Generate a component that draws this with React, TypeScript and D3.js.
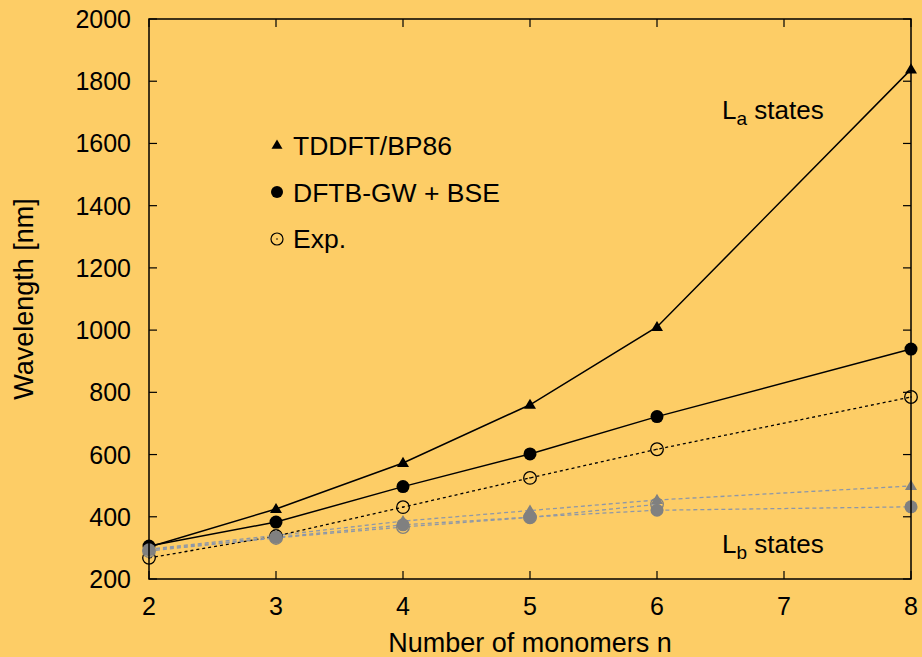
import React from "react";
import * as d3 from "d3";

// monomer counts
const nLa = [2, 3, 4, 5, 6, 8];
const nLbExp = [2, 3, 4, 5, 6];

// La states
const tddftLa = [303, 425, 573, 760, 1010, 1838];
const dftbLa = [306, 383, 497, 602, 722, 939];
const expLa = [268, 338, 431, 525, 617, 785];

// Lb states
const tddftLb = [296, 340, 386, 420, 454, 499];
const dftbLb = [294, 334, 374, 399, 421, 432];
const expLb = [290, 332, 367, 398, 440];

const xTicks = [2, 3, 4, 5, 6, 7, 8];
const yTicks = [200, 400, 600, 800, 1000, 1200, 1400, 1600, 1800, 2000];

const W = 922;
const H = 657;
const left = 149;
const right = 911;
const top = 19;
const bottom = 579;
const BG = "#fdcd66";
const GRAY = "#808080";
const GRAYLINE = "#8d97a8";
const FONT = "'Liberation Sans', Arial, sans-serif";

const x = d3.scaleLinear().domain([2, 8]).range([left, right]);
const y = d3.scaleLinear().domain([200, 2000]).range([bottom, top]);

const tri = (cx: number, cy: number, w: number) => {
  const h = w * 0.85;
  return `M${cx},${cy - h * 0.6}L${cx + w / 2},${cy + h * 0.4}L${cx - w / 2},${cy + h * 0.4}Z`;
};

const pts = (ns: number[], vs: number[]) => ns.map((n, i) => [n, vs[i]] as [number, number]);

const line = d3
  .line<[number, number]>()
  .x((d) => x(d[0]))
  .y((d) => y(d[1]));

const Triangles = ({ data, fill }: { data: [number, number][]; fill: string }) => (
  <g>
    {data.map((d, i) => (
      <path key={i} d={tri(x(d[0]), y(d[1]), 12)} fill={fill} />
    ))}
  </g>
);

const Dots = ({ data, fill }: { data: [number, number][]; fill: string }) => (
  <g>
    {data.map((d, i) => (
      <circle key={i} cx={x(d[0])} cy={y(d[1])} r={6.5} fill={fill} />
    ))}
  </g>
);

const Rings = ({ data, stroke }: { data: [number, number][]; stroke: string }) => (
  <g>
    {data.map((d, i) => (
      <g key={i}>
        <circle cx={x(d[0])} cy={y(d[1])} r={6.3} fill="none" stroke={stroke} strokeWidth={1.3} />
        <circle cx={x(d[0])} cy={y(d[1])} r={0.8} fill={stroke} />
      </g>
    ))}
  </g>
);

export default function App() {
  const tLa = pts(nLa, tddftLa);
  const dLa = pts(nLa, dftbLa);
  const eLa = pts(nLa, expLa);
  const tLb = pts(nLa, tddftLb);
  const dLb = pts(nLa, dftbLb);
  const eLb = pts(nLbExp, expLb);

  return (
    <svg
      width={W}
      height={H}
      style={{ position: "absolute", left: 0, top: 0, background: BG, fontFamily: FONT }}
    >
      <rect x={0} y={0} width={W} height={H} fill={BG} />

      {/* ticks */}
      <g stroke="#000" strokeWidth={1.2}>
        {yTicks.map((t) => (
          <g key={t}>
            <line x1={left} x2={left + 8} y1={y(t)} y2={y(t)} />
            <line x1={right} x2={right - 8} y1={y(t)} y2={y(t)} />
          </g>
        ))}
        {xTicks.map((t) => (
          <g key={t}>
            <line x1={x(t)} x2={x(t)} y1={bottom} y2={bottom - 8} />
            <line x1={x(t)} x2={x(t)} y1={top} y2={top + 8} />
          </g>
        ))}
      </g>
      <g fontSize={25} fill="#000">
        {yTicks.map((t) => (
          <text key={t} x={131} y={y(t)} dy="0.36em" textAnchor="end">
            {t}
          </text>
        ))}
        {xTicks.map((t) => (
          <text key={t} x={x(t)} y={615} textAnchor="middle">
            {t}
          </text>
        ))}
      </g>
      <text x={530} y={652} fontSize={27} textAnchor="middle">
        Number of monomers n
      </text>
      <text transform="translate(33,299) rotate(-90)" fontSize={27} textAnchor="middle">
        Wavelength [nm]
      </text>

      {/* La lines */}
      <path d={line(tLa) || ""} fill="none" stroke="#000" strokeWidth={1.5} />
      <path d={line(dLa) || ""} fill="none" stroke="#000" strokeWidth={1.5} />
      <path d={line(eLa) || ""} fill="none" stroke="#000" strokeWidth={1.3} strokeDasharray="3,3" />

      {/* Lb lines */}
      <path d={line(eLb) || ""} fill="none" stroke={GRAYLINE} strokeWidth={1.3} strokeDasharray="4,3" />
      <path d={line(tLb) || ""} fill="none" stroke={GRAYLINE} strokeWidth={1.3} strokeDasharray="4,3" />
      <path d={line(dLb) || ""} fill="none" stroke={GRAYLINE} strokeWidth={1.3} strokeDasharray="4,3" />

      {/* La markers */}
      <Triangles data={tLa} fill="#000" />
      <Dots data={dLa} fill="#000" />
      <Rings data={eLa} stroke="#000" />

      {/* Lb markers */}
      <Rings data={eLb} stroke={GRAY} />
      <Triangles data={tLb} fill={GRAY} />
      <Dots data={dLb} fill={GRAY} />

      {/* frame */}
      <rect x={left} y={top} width={right - left} height={bottom - top} fill="none" stroke="#000" strokeWidth={1.5} />

      {/* legend */}
      <path d={tri(277, 145, 11)} fill="#000" />
      <text x={293} y={155} fontSize={26.5}>TDDFT/BP86</text>
      <circle cx={277} cy={192} r={6} fill="#000" />
      <text x={293} y={202} fontSize={26.5}>DFTB-GW + BSE</text>
      <circle cx={277} cy={239} r={6} fill="none" stroke="#000" strokeWidth={1.2} />
      <circle cx={277} cy={239} r={0.8} fill="#000" />
      <text x={293} y={248} fontSize={26.5}>Exp.</text>

      {/* state labels */}
      <text x={722} y={119} fontSize={26}>
        L<tspan dy={6} fontSize={19}>a</tspan>
        <tspan dy={-6}> states</tspan>
      </text>
      <text x={722} y={553} fontSize={26}>
        L<tspan dy={6} fontSize={19}>b</tspan>
        <tspan dy={-6}> states</tspan>
      </text>
    </svg>
  );
}
